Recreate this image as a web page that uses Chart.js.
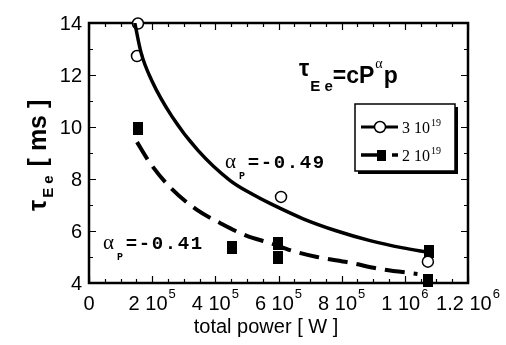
<!DOCTYPE html>
<html><head><meta charset="utf-8">
<script src="https://cdn.jsdelivr.net/npm/chart.js@4.4.0/dist/chart.umd.min.js"></script>
<style>html,body{margin:0;padding:0;background:#fff;}#wrap{width:506px;height:345px;}</style>
</head><body><div id="wrap"><canvas id="c" width="506" height="345"></canvas></div>
<script>
// ---- data ----
const xTickValues = [0, 2e5, 4e5, 6e5, 8e5, 1e6, 1.2e6];
const xTickMantissa = ['0', '2 10', '4 10', '6 10', '8 10', '1 10', '1.2 10'];
const xTickExponent = ['', '5', '5', '5', '5', '6', '6'];
const xMinorStep = 0.5e5;
const yTickValues = [4, 6, 8, 10, 12, 14];
const yTickLabels = ['4', '6', '8', '10', '12', '14'];
const yMinorStep = 1;

const seriesLabels = ['3 10', '2 10'];
const seriesExp = ['19', '19'];

const circlesX = [1.55e5, 1.52e5, 6.08e5, 10.73e5];
const circlesY = [13.98, 12.73, 7.31, 4.82];
const squaresX = [1.55e5, 4.53e5, 5.98e5, 5.98e5, 10.77e5, 10.72e5];
const squaresY = [9.94, 5.38, 5.52, 5.0, 5.23, 4.08];

const fitSolidX = [1.45e5, 1.65e5, 1.99e5, 2.63e5, 3.45e5, 4.46e5, 5.19e5, 5.73e5, 6.78e5, 7.85e5, 8.90e5, 9.94e5, 10.7e5];
const fitSolidY = [14.0, 12.85, 11.78, 10.4, 9.1, 7.95, 7.4, 7.06, 6.47, 6.0, 5.63, 5.35, 5.19];
const fitDashX = [1.52e5, 1.93e5, 2.56e5, 3.42e5, 4.15e5, 5.0e5, 5.73e5, 6.46e5, 7.22e5, 8.26e5, 9.21e5, 10.4e5];
const fitDashY = [9.42, 8.62, 7.69, 6.81, 6.31, 5.81, 5.54, 5.23, 5.0, 4.78, 4.54, 4.35];

const fitSolidLabel = ['\u03b1', 'P', '=-0.49'];
const fitDashLabel = ['\u03b1', 'P', '=-0.41'];

const pts = (xs, ys) => xs.map((x, i) => ({x: x, y: ys[i]}));

// square marker
const sq = document.createElement('canvas');
sq.width = 10; sq.height = 13;
(function(){ const g = sq.getContext('2d'); g.fillStyle = '#000'; g.fillRect(0, 0, 10, 13); })();

const SANS = '"Liberation Sans", Arial, sans-serif';
const MONO = '"Liberation Mono", "Courier New", monospace';
const SERIF = '"Liberation Serif", "Times New Roman", serif';

function txt(ctx, s, x, y, font, align) {
  ctx.font = font; ctx.textAlign = align || 'left'; ctx.fillText(s, x, y);
  return ctx.measureText(s).width;
}
function spaced(ctx, s, x, y, font, adv) {
  ctx.font = font; ctx.textAlign = 'center';
  for (let i = 0; i < s.length; i++) ctx.fillText(s[i], x + adv * (i + 0.5), y);
  ctx.textAlign = 'left';
  return adv * s.length;
}

const decor = {
  id: 'decor',
  beforeDatasetsDraw(chart) {
    const ctx = chart.ctx, a = chart.chartArea, xs = chart.scales.x, ys = chart.scales.y;
    ctx.save();
    ctx.strokeStyle = '#000'; ctx.fillStyle = '#000';
    // ticks inside
    ctx.lineWidth = 1.2;
    ctx.beginPath();
    for (let v = xs.min; v <= xs.max + 1; v += xMinorStep) {
      const px = Math.round(xs.getPixelForValue(v)) + 0.5;
      const major = xTickValues.some(t => Math.abs(t - v) < 1);
      const L = major ? 7 : 4;
      ctx.moveTo(px, a.bottom); ctx.lineTo(px, a.bottom - L);
      ctx.moveTo(px, a.top); ctx.lineTo(px, a.top + L);
    }
    for (let v = ys.min; v <= ys.max + 1e-9; v += yMinorStep) {
      const py = Math.round(ys.getPixelForValue(v)) + 0.5;
      const major = yTickValues.some(t => Math.abs(t - v) < 1e-6);
      const L = major ? 7 : 4;
      ctx.moveTo(a.left, py); ctx.lineTo(a.left + L, py);
      ctx.moveTo(a.right, py); ctx.lineTo(a.right - L, py);
    }
    ctx.stroke();
    // frame
    ctx.lineWidth = 2.5;
    ctx.strokeRect(a.left, a.top, a.right - a.left, a.bottom - a.top);

    // x tick labels
    ctx.textBaseline = 'alphabetic';
    xTickValues.forEach((v, i) => {
      const px = xs.getPixelForValue(v);
      ctx.font = '20px ' + SANS;
      const w1 = ctx.measureText(xTickMantissa[i]).width;
      ctx.font = '13px ' + SANS;
      const w2 = xTickExponent[i] ? ctx.measureText(xTickExponent[i]).width + 1 : 0;
      let x0 = px - (w1 + w2) / 2;
      txt(ctx, xTickMantissa[i], x0, 310, '20px ' + SANS);
      if (xTickExponent[i]) txt(ctx, xTickExponent[i], x0 + w1 + 1, 298, '13px ' + SANS);
    });
    // y tick labels
    ctx.textBaseline = 'middle';
    yTickValues.forEach((v, i) => {
      txt(ctx, yTickLabels[i], a.left - 7, ys.getPixelForValue(v) + 1, '20px ' + SANS, 'right');
    });
    ctx.textBaseline = 'alphabetic';
    // x title
    txt(ctx, 'total power [ W ]', 266, 333, '20px ' + SANS, 'center');
    // y title (rotated)
    ctx.save();
    ctx.translate(46, 0); ctx.rotate(-Math.PI / 2);
    let x = -211;
    x += txt(ctx, '\u03c4', x, 0, 'bold 25px ' + SANS);
    x += 2;
    x += txt(ctx, 'E e', x, 7, 'bold 15px ' + SANS);
    txt(ctx, ' [ ms ]', x + 2, 0, 'bold 25px ' + SANS);
    ctx.restore();

    // formula
    x = 299;
    x += txt(ctx, '\u03c4', x, 76, 'bold 23px ' + SANS);
    x += 1;
    x += txt(ctx, 'E e', x, 91, 'bold 15px ' + SANS);
    x += txt(ctx, '=cP', x, 83, 'bold 23px ' + SANS);
    x += txt(ctx, '\u03b1', x + 1, 68, '14px ' + SERIF) + 2;
    txt(ctx, 'p', x, 83, 'bold 23px ' + SANS);

    // alpha labels
    function alab(lbl, x0, y0) {
      let xx = x0;
      xx += txt(ctx, lbl[0], xx, y0, '21px ' + SERIF);
      xx += 3;
      xx += txt(ctx, lbl[1], xx, y0 + 11, 'bold 10px ' + MONO);
      spaced(ctx, lbl[2], xx + 2, y0, 'bold 19px ' + MONO, 13);
    }
    alab(fitSolidLabel, 225, 168);
    alab(fitDashLabel, 103, 249);
    ctx.restore();
  },
  afterDatasetsDraw(chart) {
    const ctx = chart.ctx;
    ctx.save();
    // legend box with shadow
    const bx = 355, by = 104, bw = 100, bh = 67;
    ctx.fillStyle = '#000';
    ctx.fillRect(bx + 3, by + 3, bw, bh);
    ctx.fillStyle = '#fff';
    ctx.fillRect(bx, by, bw, bh);
    ctx.strokeStyle = '#000'; ctx.lineWidth = 1.5;
    ctx.strokeRect(bx, by, bw, bh);
    // row 1
    let ry = 127;
    ctx.lineWidth = 3;
    ctx.beginPath(); ctx.moveTo(361, ry); ctx.lineTo(398, ry); ctx.stroke();
    ctx.beginPath(); ctx.arc(380, ry, 5.5, 0, Math.PI * 2);
    ctx.fillStyle = '#fff'; ctx.fill(); ctx.lineWidth = 1.5; ctx.stroke();
    ctx.fillStyle = '#000';
    let w = txt(ctx, seriesLabels[0], 402, ry + 6, '16px ' + SERIF);
    txt(ctx, seriesExp[0], 402 + w + 1, ry - 1, '10px ' + SERIF);
    // row 2
    ry = 155;
    ctx.lineWidth = 3.5;
    ctx.beginPath(); ctx.moveTo(361, ry); ctx.lineTo(378, ry); ctx.stroke();
    ctx.fillRect(377, ry - 5, 9, 11);
    ctx.beginPath(); ctx.moveTo(392, ry); ctx.lineTo(398, ry); ctx.stroke();
    w = txt(ctx, seriesLabels[1], 402, ry + 6, '16px ' + SERIF);
    txt(ctx, seriesExp[1], 402 + w + 1, ry - 1, '10px ' + SERIF);
    ctx.restore();
  }
};

new Chart(document.getElementById('c'), {
  type: 'scatter',
  data: {
    datasets: [
      { label: 'fit 3e19', type: 'line', data: pts(fitSolidX, fitSolidY), borderColor: '#000', borderWidth: 3.5,
        pointRadius: 0, fill: false, cubicInterpolationMode: 'monotone', showLine: true },
      { label: 'fit 2e19', type: 'line', data: pts(fitDashX, fitDashY), borderColor: '#000', borderWidth: 4,
        borderDash: [20, 9], pointRadius: 0, fill: false, cubicInterpolationMode: 'monotone', showLine: true },
      { label: seriesLabels[0] + ' ' + seriesExp[0], data: pts(circlesX, circlesY), pointStyle: 'circle', pointRadius: 5.5,
        backgroundColor: '#fff', borderColor: '#000', borderWidth: 1.5, clip: false },
      { label: seriesLabels[1] + ' ' + seriesExp[1], data: pts(squaresX, squaresY), pointStyle: sq, pointRadius: 6, clip: false }
    ]
  },
  options: {
    responsive: false, animation: false,
    layout: { padding: { left: 0, right: 38, top: 23, bottom: 0 } },
    plugins: { legend: { display: false }, tooltip: { enabled: false } },
    scales: {
      x: { type: 'linear', min: 0, max: 1.2e6, ticks: { display: false }, grid: { display: false }, border: { display: false },
           afterFit: s => { s.height = 62; s.paddingLeft = 0; s.paddingRight = 0; } },
      y: { type: 'linear', min: 4, max: 14, ticks: { display: false }, grid: { display: false }, border: { display: false },
           afterFit: s => { s.width = 89; s.paddingTop = 0; s.paddingBottom = 0; } }
    }
  },
  plugins: [decor]
});
</script></body></html>
